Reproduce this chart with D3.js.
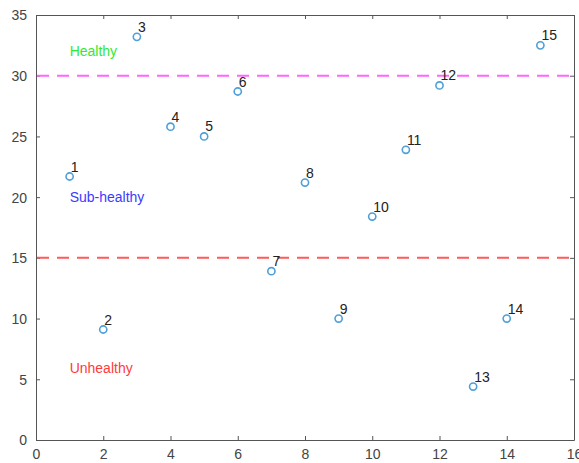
<!DOCTYPE html>
<html>
<head>
<meta charset="utf-8">
<script src="https://cdn.jsdelivr.net/npm/d3@7"></script>
<style>
  body { margin: 0; background: #fff; }
  svg { font-family: "Liberation Sans", Arial, sans-serif; }
</style>
</head>
<body>
<svg width="579" height="463"></svg>
<script>
// data
var ids = [1, 2, 3, 4, 5, 6, 7, 8, 9, 10, 11, 12, 13, 14, 15];
var xs = [1, 2, 3, 4, 5, 6, 7, 8, 9, 10, 11, 12, 13, 14, 15];
var ys = [21.7, 9.1, 33.2, 25.8, 25.0, 28.7, 13.9, 21.2, 10.0, 18.4, 23.9, 29.2, 4.4, 10.0, 32.5];
var thresholds = [30, 15];
var zoneNames = ["Healthy", "Sub-healthy", "Unhealthy"];
var zoneY = [31.6, 19.6, 5.5];
var xTicks = [0, 2, 4, 6, 8, 10, 12, 14, 16];
var yTicks = [0, 5, 10, 15, 20, 25, 30, 35];

var svg = d3.select("svg"),
    margin = {left: 36, right: 5, top: 15, bottom: 23},
    width = +svg.attr("width") - margin.left - margin.right,
    height = +svg.attr("height") - margin.top - margin.bottom;

var x = d3.scaleLinear().domain([0, 16]).range([margin.left, margin.left + width]);
var y = d3.scaleLinear().domain([0, 35]).range([margin.top + height, margin.top]);

var axisColor = "#555";

// axes (box on, ticks inside)
var gx = svg.append("g")
    .attr("transform", "translate(0," + y(0) + ")")
    .call(d3.axisBottom(x).tickValues(xTicks).tickSizeInner(-4).tickSizeOuter(0).tickPadding(9));
var gy = svg.append("g")
    .attr("transform", "translate(" + x(0) + ",0)")
    .call(d3.axisLeft(y).tickValues(yTicks).tickSizeInner(-4).tickSizeOuter(0).tickPadding(9));
var gt = svg.append("g")
    .attr("transform", "translate(0," + y(35) + ")")
    .call(d3.axisTop(x).tickValues(xTicks).tickSizeInner(-4).tickSizeOuter(0).tickFormat(""));
var gr = svg.append("g")
    .attr("transform", "translate(" + x(16) + ",0)")
    .call(d3.axisRight(y).tickValues(yTicks).tickSizeInner(-4).tickSizeOuter(0).tickFormat(""));

[gx, gy, gt, gr].forEach(function(g) {
  g.selectAll("path, line").attr("stroke", axisColor).attr("stroke-width", 1);
  g.selectAll("text").attr("fill", "#444").attr("font-size", "14px");
});
gy.selectAll("text").attr("dy", "0.35em");

// threshold lines
var lineColors = ["#ff66ff", "#ff5a5a"];
svg.selectAll(".thr")
  .data(thresholds)
  .enter().append("line")
    .attr("class", "thr")
    .attr("x1", x(0) + 1)
    .attr("x2", x(16) - 1)
    .attr("y1", function(d) { return y(d); })
    .attr("y2", function(d) { return y(d); })
    .attr("stroke", function(d, i) { return lineColors[i]; })
    .attr("stroke-width", 2)
    .attr("stroke-dasharray", "12,8");

// zone labels
var zoneColors = ["#33e833", "#3b3bff", "#ff3b3b"];
svg.selectAll(".zone")
  .data(zoneNames)
  .enter().append("text")
    .attr("class", "zone")
    .attr("x", x(1))
    .attr("y", function(d, i) { return y(zoneY[i]); })
    .attr("fill", function(d, i) { return zoneColors[i]; })
    .attr("font-size", "14px")
    .text(function(d) { return d; });

// points
var pts = ids.map(function(id, i) { return {id: id, x: xs[i], y: ys[i]}; });

svg.selectAll(".pt")
  .data(pts)
  .enter().append("circle")
    .attr("class", "pt")
    .attr("cx", function(d) { return x(d.x); })
    .attr("cy", function(d) { return y(d.y); })
    .attr("r", 3.6)
    .attr("fill", "none")
    .attr("stroke", "#4f9fd8")
    .attr("stroke-width", 1.6);

svg.selectAll(".lbl")
  .data(pts)
  .enter().append("text")
    .attr("class", "lbl")
    .attr("x", function(d) { return x(d.x) + 1; })
    .attr("y", function(d) { return y(d.y) - 5; })
    .attr("fill", "#222")
    .attr("font-size", "14px")
    .text(function(d) { return d.id; });
</script>
</body>
</html>
